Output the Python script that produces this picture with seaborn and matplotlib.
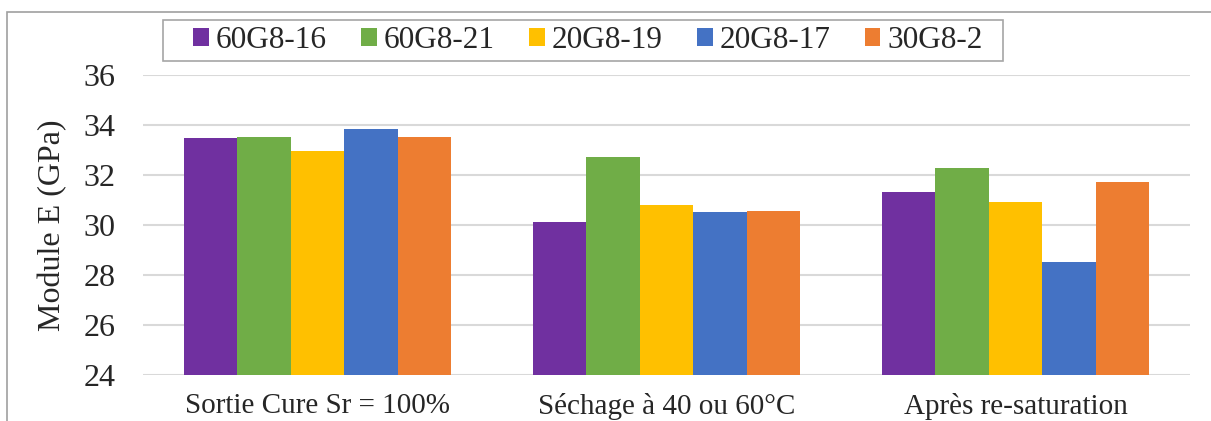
import matplotlib
matplotlib.use("Agg")
import matplotlib.pyplot as plt
import seaborn as sns
import pandas as pd
from matplotlib.patches import Patch, Rectangle

categories = ["Sortie Cure Sr = 100%", "Séchage à 40 ou 60°C", "Après re-saturation"]
series = ["60G8-16", "60G8-21", "20G8-19", "20G8-17", "30G8-2"]
v_60G8_16 = [33.48, 30.13, 31.32]
v_60G8_21 = [33.52, 32.71, 32.29]
v_20G8_19 = [32.95, 30.79, 30.91]
v_20G8_17 = [33.84, 30.51, 28.51]
v_30G8_2 = [33.51, 30.56, 31.71]
colors = ["#7030A0", "#70AD47", "#FFC000", "#4472C4", "#ED7D31"]

values = [v_60G8_16, v_60G8_21, v_20G8_19, v_20G8_17, v_30G8_2]
rows = []
for s, vals in zip(series, values):
    for c, v in zip(categories, vals):
        rows.append({"cat": c, "serie": s, "val": v})
df = pd.DataFrame(rows)

sns.set_style("white")
plt.rcParams["font.family"] = ["Liberation Serif", "DejaVu Serif"]

W, H = 1211, 421
fig = plt.figure(figsize=(W / 100, H / 100), dpi=100)
ax = fig.add_axes([143/W, 1-375/H, 1047/W, 300/H])

sns.barplot(data=df, x="cat", y="val", hue="serie", order=categories,
            hue_order=series, palette=colors, width=0.765, ax=ax,
            saturation=1, legend=False, linewidth=0, errorbar=None)

ax.set_ylim(24, 36)
ax.set_xlim(-0.5, 2.5)
ax.set_yticks([24, 26, 28, 30, 32, 34, 36])
ax.yaxis.grid(True, color="#d9d9d9", linewidth=1.5)
ax.set_axisbelow(True)
for sp in ax.spines.values():
    sp.set_visible(False)
ax.tick_params(axis="y", length=0, pad=20, labelsize=23)
ax.tick_params(axis="x", length=0, pad=13, labelsize=21)
ax.set_xlabel("")
ax.set_ylabel("Module E (GPa)", fontsize=23)
ax.yaxis.set_label_coords(-0.072, 0.5)

handles = [Patch(facecolor=c, edgecolor="none") for c in colors]
leg = fig.legend(handles, series, loc="center", bbox_to_anchor=(588/W, 1-40.5/H),
                 ncol=5, fontsize=22.5, frameon=False,
                 handlelength=0.5, handleheight=0.5,
                 handletextpad=0.22, columnspacing=1.1, borderpad=0.2,
                 borderaxespad=0)

# legend frame
fig.add_artist(Rectangle((163/W, 1-61/H), 840/W, 41/H, transform=fig.transFigure,
                         fill=False, edgecolor="#a6a6a6", linewidth=1.2))
# outer chart border
fig.add_artist(Rectangle((7/W, -0.1), 1.2, 1.1 - 12/H, transform=fig.transFigure,
                         fill=False, edgecolor="#a0a0a0", linewidth=1.2))

fig.savefig("out.png", dpi=100)
